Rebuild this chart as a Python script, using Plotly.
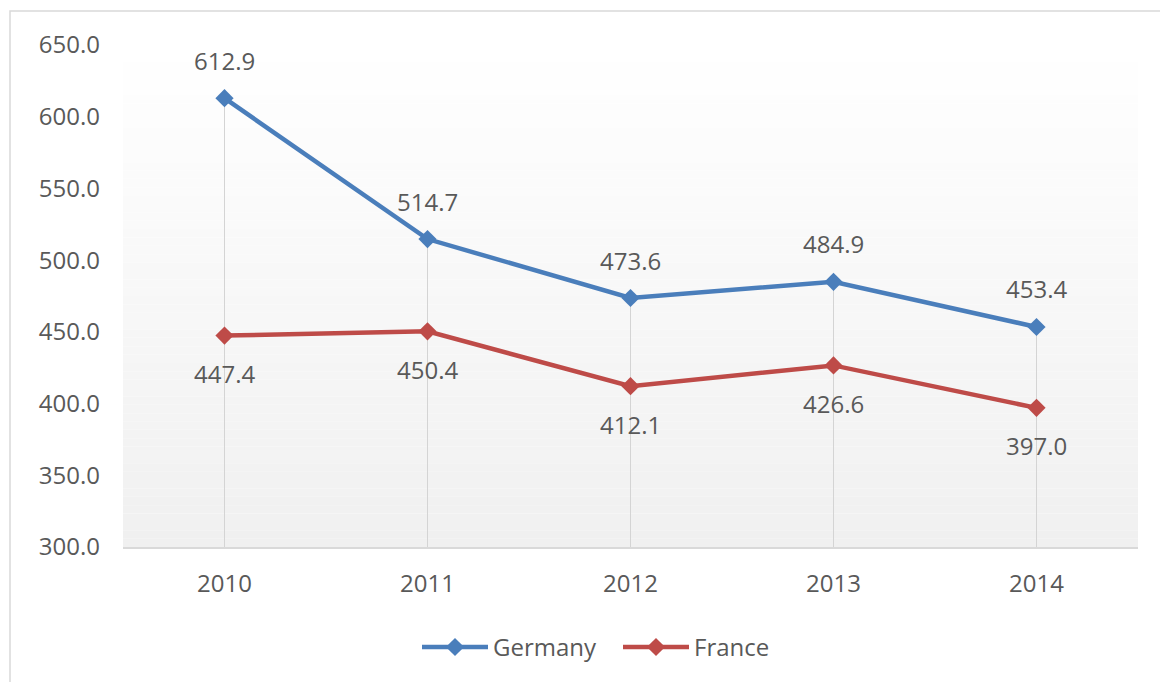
import plotly.graph_objects as go

years = [2010, 2011, 2012, 2013, 2014]
germany = [612.9, 514.7, 473.6, 484.9, 453.4]
france = [447.4, 450.4, 412.1, 426.6, 397.0]
y_ticks = [300, 350, 400, 450, 500, 550, 600, 650]

BLUE = "#4A7EBB"
RED = "#BE4B48"
TEXT = "#595959"
FONT = "Open Sans"
Y_MIN, Y_MAX = 300, 650

fig = go.Figure()

# vertical drop lines from the upper series down to the category axis
tops = [max(g, f) for g, f in zip(germany, france)]
fig.add_trace(go.Scatter(
    x=years, y=tops, mode="markers",
    marker=dict(size=1, opacity=0),
    error_y=dict(type="data", symmetric=False,
                 array=[0] * len(tops),
                 arrayminus=[t - Y_MIN for t in tops],
                 color="#D4D4D4", thickness=1, width=0),
    hoverinfo="skip", showlegend=False,
))

for name, vals, color in [("Germany", germany, BLUE), ("France", france, RED)]:
    fig.add_trace(go.Scatter(
        x=years, y=vals, name=name, mode="lines+markers",
        line=dict(color=color, width=4.5),
        marker=dict(symbol="diamond", size=14, color=color),
    ))

# value labels: Germany above, France below
annotations = []
for yr, v in zip(years, germany):
    annotations.append(dict(x=yr, y=v, text=f"{v:.1f}", showarrow=False,
                            yshift=38, font=dict(family=FONT, size=24, color=TEXT)))
for yr, v in zip(years, france):
    annotations.append(dict(x=yr, y=v, text=f"{v:.1f}", showarrow=False,
                            yshift=-38, font=dict(family=FONT, size=24, color=TEXT)))

# soft vertical gradient for the plot area
shapes = []
n = 60
for i in range(n):
    t = i / (n - 1)
    c = round(255 - t * (255 - 240))
    shapes.append(dict(type="rect", xref="paper", yref="paper",
                       x0=0, x1=1, y0=1 - (i + 1) / n, y1=1 - i / n,
                       fillcolor=f"rgb({c},{c},{c})", line=dict(width=0),
                       layer="below"))

# chart frame
shapes.append(dict(type="rect", xref="paper", yref="paper",
                   x0=(10 - 123) / 1015, x1=1.2, y0=-0.4, y1=(547 - 11) / 502,
                   line=dict(color="#D9D9D9", width=1.5), fillcolor="rgba(0,0,0,0)",
                   layer="above"))

fig.update_layout(
    width=1160, height=682,
    margin=dict(l=123, r=22, t=45, b=135),
    paper_bgcolor="white", plot_bgcolor="white",
    font=dict(family=FONT, size=24, color=TEXT),
    showlegend=True,
    legend=dict(orientation="h", x=(417 - 123) / 1015, xanchor="left",
                y=-0.2, yanchor="middle",
                font=dict(family=FONT, size=24, color=TEXT),
                itemwidth=66, entrywidth=120,
                bgcolor="rgba(0,0,0,0)"),
    annotations=annotations,
    shapes=shapes,
    xaxis=dict(range=[years[0] - 0.5, years[-1] + 0.5], tickvals=years,
               ticktext=[str(y) for y in years],
               showgrid=False, zeroline=False,
               showline=True, linecolor="#D9D9D9", linewidth=1.5,
               ticks="", ticklabelstandoff=14,
               tickfont=dict(family=FONT, size=24, color=TEXT)),
    yaxis=dict(range=[Y_MIN, Y_MAX], tickvals=y_ticks,
               ticktext=[f"{v:.1f}" for v in y_ticks],
               showgrid=False, zeroline=False, showline=False, ticks="",
               ticklabelstandoff=22,
               tickfont=dict(family=FONT, size=24, color=TEXT)),
)

fig.write_html("out.html")
